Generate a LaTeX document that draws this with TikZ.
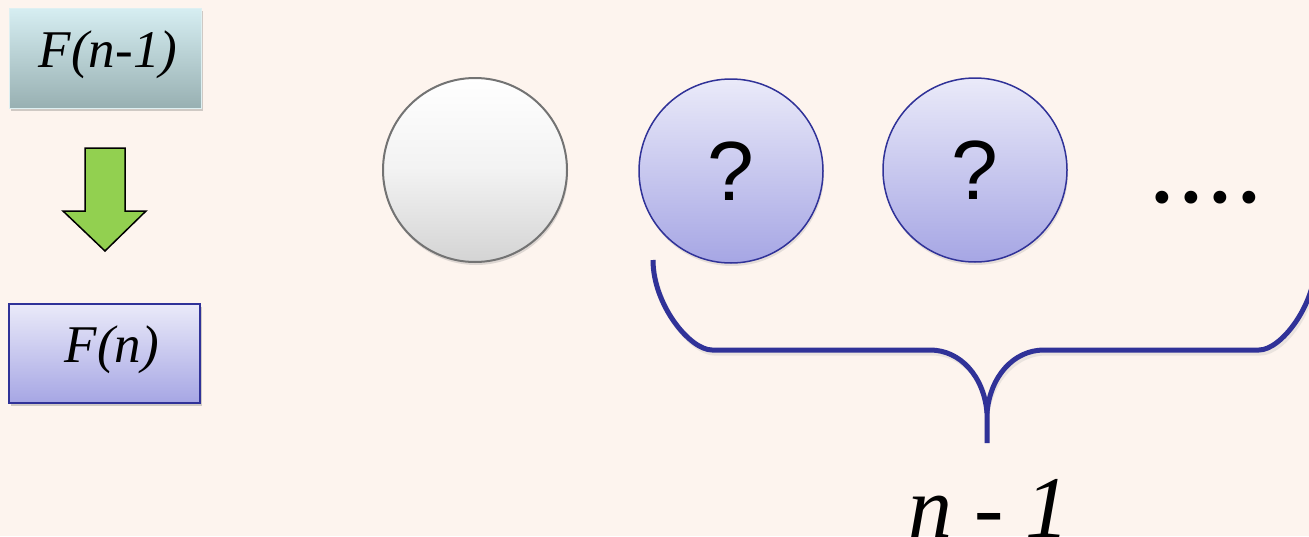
\documentclass[tikz,border=0pt]{standalone}
\usepackage{fontspec}
\setmainfont{Liberation Serif}
\newfontfamily\sansq{Liberation Sans}
\usetikzlibrary{shadows}
\definecolor{bg}{RGB}{253,244,238}
\definecolor{tealtop}{RGB}{214,238,242}
\definecolor{tealbot}{RGB}{152,176,178}
\definecolor{tealline}{RGB}{222,240,242}
\definecolor{lavtop}{RGB}{234,234,249}
\definecolor{lavbot}{RGB}{166,166,228}
\definecolor{navy}{RGB}{48,50,152}
\definecolor{arrowgreen}{RGB}{146,208,80}
\tikzset{
  softshadow/.style={drop shadow={shadow xshift=2pt, shadow yshift=-3pt, opacity=0.3, fill=black!60}},
  tealbox/.style={rectangle, minimum width=192pt, minimum height=100pt, top color=tealtop, bottom color=tealbot, draw=tealline, line width=1pt, softshadow},
  lavbox/.style={rectangle, minimum width=191pt, minimum height=99pt, top color=lavtop, bottom color=lavbot, draw=navy, line width=1.8pt, softshadow},
  ballwhite/.style={circle, minimum size=184pt, inner sep=0pt, top color=white, bottom color=black!17, middle color=white!95!black, draw=black!55, line width=2pt, drop shadow={shadow xshift=1pt, shadow yshift=-3pt, opacity=0.25, fill=black!50}},
  ballblue/.style={circle, minimum size=184pt, inner sep=0pt, top color=lavtop, bottom color=lavbot, draw=navy, line width=1.5pt, font=\sansq\fontsize{84}{90}\selectfont, drop shadow={shadow xshift=1pt, shadow yshift=-3pt, opacity=0.2, fill=black!50}},
  fnlabel/.style={anchor=base, inner sep=0pt, font=\itshape\fontsize{53}{60}\selectfont},
  bigit/.style={anchor=base, inner sep=0pt, font=\itshape\fontsize{88}{96}\selectfont},
  dotsit/.style={anchor=base west, inner sep=0pt, font=\itshape\fontsize{108}{116}\selectfont},
  bracepath/.style={draw=navy, line width=5pt},
  braceshadow/.style={draw=black!40, line width=5pt, opacity=0.18},
}
\begin{document}
\begin{tikzpicture}[x=1pt,y=-1pt]
\useasboundingbox (0,0) rectangle (1309,536);
\fill[bg] (0,0) rectangle (1309,536);

% left boxes
\node[tealbox] (fa) at (105,58) {};
\node[fnlabel] (fat) at (108,67) {F(n-1)};
\node[lavbox] (fb) at (104.5,353.5) {};
\node[fnlabel] (fbt) at (112,362) {F(n)};

% green block arrow
\draw[fill=arrowgreen, draw=black, line width=1.5pt, line join=miter]
  (85,148) -- (125,148) -- (125,211) -- (146,211) -- (105,251) -- (63,211) -- (85,211) -- cycle;

% balls
\node[ballwhite] (w) at (475,170) {};
\node[ballblue] (q1) at (731,171) {?};
\node[ballblue] (q2) at (975,170) {?};
\node[dotsit] (dots) at (1151,202) {.\hspace{2pt}.\hspace{2pt}.\hspace{2pt}.};

% brace
\coordinate (bl) at (653,260);
\coordinate (br) at (1316,260);
\coordinate (tipm) at (987,413);
\coordinate (tipb) at (987,443);
\begin{scope}[xshift=2pt,yshift=-3pt]
\draw[braceshadow] (bl) .. controls (653,305) and (690,350) .. (712,350) -- (930,350) .. controls (960,350) and (984,376) .. (tipm) -- (tipb);
\draw[braceshadow] (br) .. controls (1316,305) and (1281,350) .. (1259,350) -- (1044,350) .. controls (1014,350) and (990,376) .. (tipm);
\end{scope}
\draw[bracepath] (bl) .. controls (653,305) and (690,350) .. (712,350) -- (930,350) .. controls (960,350) and (984,376) .. (tipm) -- (tipb);
\draw[bracepath] (br) .. controls (1316,305) and (1281,350) .. (1259,350) -- (1044,350) .. controls (1014,350) and (990,376) .. (tipm);

\node[bigit] (nm1) at (989,537) {n - 1};
\end{tikzpicture}
\end{document}
